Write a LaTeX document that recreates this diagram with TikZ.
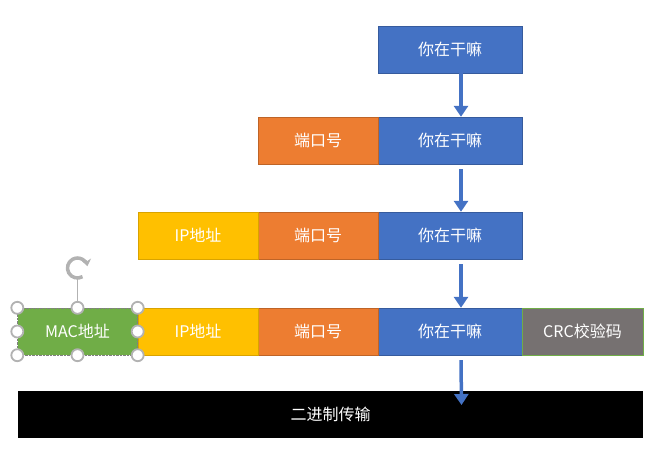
\documentclass[tikz,border=0pt]{standalone}
\usepackage{fontspec}
\newfontfamily\cjk{Noto Sans CJK SC}
\usetikzlibrary{arrows.meta}

\definecolor{msblue}{HTML}{4472C4}
\definecolor{msorange}{HTML}{ED7D31}
\definecolor{msyellow}{HTML}{FFC000}
\definecolor{msgreen}{HTML}{70AD47}
\definecolor{msgray}{HTML}{767171}

\tikzset{
	field/.style = {minimum height=47pt, inner sep=0pt, text=white,
		font=\cjk\fontsize{16}{19}\selectfont},
	data/.style = {field, minimum width=144pt, fill=msblue, draw=msblue!80!black},
	port/.style = {field, minimum width=120pt, fill=msorange, draw=msorange!80!black},
	ipad/.style = {field, minimum width=120pt, fill=msyellow, draw=msyellow!85!black},
	macad/.style = {field, minimum width=120pt, fill=msgreen, draw=gray, densely dotted},
	crc/.style = {field, minimum width=121pt, fill=msgray, draw=msgreen},
	arr/.style = {msblue, line width=3.5pt, -{Triangle[width=14pt,length=11pt]}},
	handle/.style = {circle, draw=gray!60, fill=white, line width=1.8pt, inner sep=0pt, minimum size=12pt}
}

\begin{document}
\begin{tikzpicture}[x=1pt, y=-1pt]
	\useasboundingbox (0,0) rectangle (672,451);

	% row 1
	\node[data] (d1) at (450,49.5) {你在干嘛};

	% row 2
	\node[data] (d2) at (450,140.5) {你在干嘛};
	\node[port] (p2) at (318,140.5) {端口号};

	% row 3
	\node[data] (d3) at (450,235.5) {你在干嘛};
	\node[port] (p3) at (318,235.5) {端口号};
	\node[ipad] (i3) at (198,235.5) {IP地址};

	% row 4
	\node[data] (d4) at (450,331.5) {你在干嘛};
	\node[port] (p4) at (318,331.5) {端口号};
	\node[ipad] (i4) at (198,331.5) {IP地址};
	\node[macad] (m4) at (77.5,331.5) {MAC地址};
	\node[crc] (c4) at (582.5,331.5) {CRC校验码};

	% bottom bar
	\node[field, minimum width=625pt, fill=black] (bin) at (330.5,414.5) {二进制传输};
	\coordinate (sent) at (461.5,405);

	% arrows
	\draw[arr] ([xshift=11pt]d1.south) -- ([xshift=11pt]d2.north);
	\draw[arr] ([xshift=11pt,yshift=-5pt]d2.south) -- ([xshift=11pt]d3.north);
	\draw[arr] ([xshift=11pt,yshift=-5pt]d3.south) -- ([xshift=11pt]d4.north);
	\draw[arr] ([xshift=11pt,yshift=-5pt]d4.south) -- (sent);

	% selection handles
	\coordinate (rot) at (77.5,268);
	\draw[gray!60, line width=1.5pt] ([yshift=-11pt]rot) -- (m4.north);
	\draw[gray!60, line width=3.5pt, -{Stealth[length=7pt,width=10pt]}] ([shift={(5,8.66)}]rot) arc[start angle=60, end angle=350, radius=10];
	\foreach \a in {north west, north, north east, west, east, south west, south, south east}
		\node[handle] at (m4.\a) {};
\end{tikzpicture}
\end{document}
